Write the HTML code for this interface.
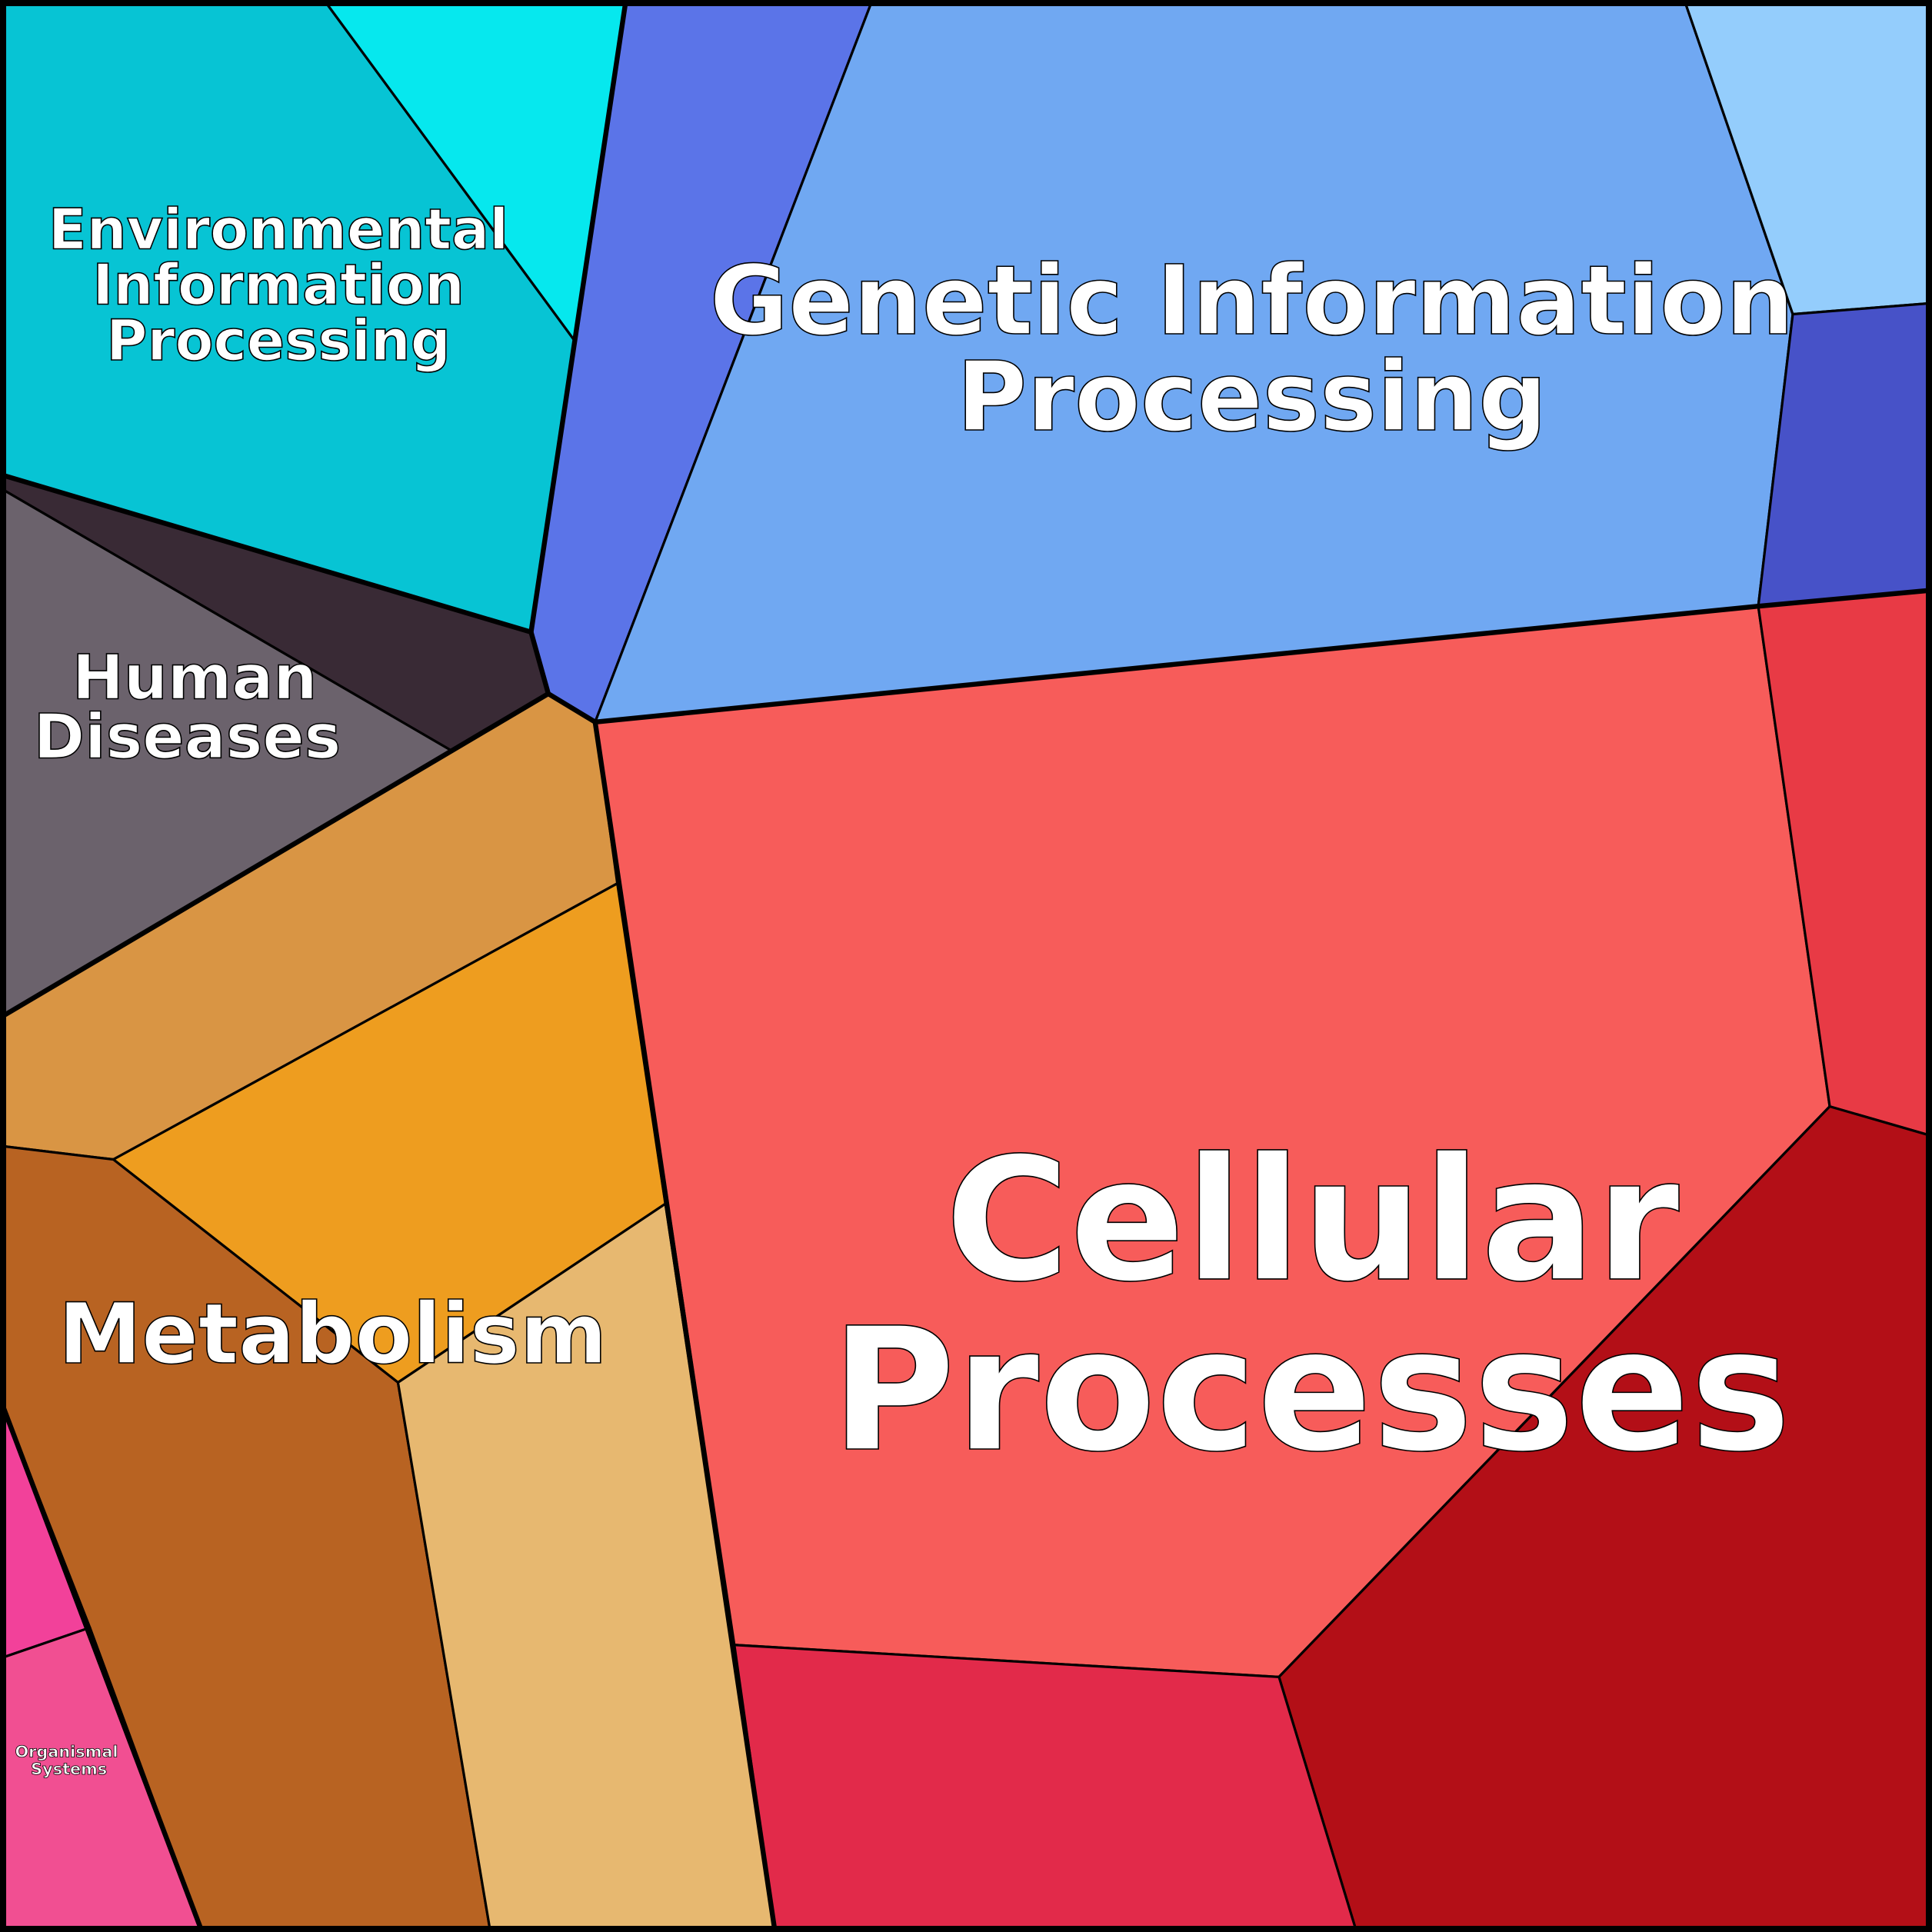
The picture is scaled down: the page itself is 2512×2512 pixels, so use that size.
<!DOCTYPE html>
<html><head><meta charset="utf-8"><style>html,body{margin:0;padding:0;background:#fff}svg{display:block}</style></head>
<body>
<svg width="2512" height="2512" viewBox="0 0 1568 1568" xmlns="http://www.w3.org/2000/svg">
<g stroke="#000" stroke-width="2" stroke-linejoin="round">
<polygon fill="#07c4d4" points="0,0 263,0 466,276 431,513 0,385"/>
<polygon fill="#06e8ee" points="263,0 508,0 466,276"/>
<polygon fill="#5b74e8" points="508,0 708,0 483,586 445,563 431,513 466,276"/>
<polygon fill="#70a8f2" points="708,0 1367,0 1455,255 1427,492 483,586"/>
<polygon fill="#94cdfc" points="1367,0 1568,0 1568,246 1455,255"/>
<polygon fill="#4752c8" points="1455,255 1568,246 1568,479 1427,492"/>
<polygon fill="#392a35" points="0,385 431,513 445,563 366,609 0,396"/>
<polygon fill="#6b626c" points="0,396 366,609 0,826"/>
<polygon fill="#d99544" points="0,826 445,563 483,586 501,717 92,941 0,930"/>
<polygon fill="#ee9d1f" points="92,941 501,717 540,977 323,1122"/>
<polygon fill="#b86322" points="0,930 92,941 323,1122 398,1568 164,1568 0,1135"/>
<polygon fill="#e7b870" points="323,1122 540,977 629,1568 398,1568"/>
<polygon fill="#f2419a" points="0,1135 73,1321 0,1346"/>
<polygon fill="#f14f92" points="0,1346 73,1321 164,1568 0,1568"/>
<polygon fill="#f75c5a" points="483,586 1427,492 1485,898 1038,1361 596,1335"/>
<polygon fill="#e83a45" points="1427,492 1568,479 1568,922 1485,898"/>
<polygon fill="#b30f17" points="1485,898 1568,922 1568,1568 1101,1568 1038,1361"/>
<polygon fill="#e22a4a" points="596,1335 1038,1361 1101,1568 629,1568"/>
</g>
<g fill="none" stroke="#000" stroke-width="4" stroke-linejoin="round">
<polyline points="0,385 431,513 508,0"/>
<polyline points="431,513 445,563 483,586 1427,492 1568,479"/>
<polyline points="445,563 0,826"/>
<polyline points="483,586 629,1568"/>
<polyline points="0,1135 164,1568"/>
<rect x="2" y="2" width="1564" height="1564" stroke-width="6"/>
</g>
<g font-family="'DejaVu Sans','Liberation Sans',sans-serif" font-weight="bold" fill="#fff" stroke="#000" stroke-width="1" text-anchor="middle">
<text font-size="45.5" x="226" y="202">Environmental</text>
<text font-size="45.5" x="226" y="247">Information</text>
<text font-size="45.5" x="226" y="292">Processing</text>
<text font-size="78" x="1016" y="271">Genetic Information</text>
<text font-size="78" x="1016" y="349">Processing</text>
<text font-size="50" x="158" y="567">Human</text>
<text font-size="50" x="152" y="615">Diseases</text>
<text font-size="68" x="270" y="1106">Metabolism</text>
<text font-size="138" x="1065" y="1038">Cellular</text>
<text font-size="138" x="1064" y="1176">Processes</text>
<text font-size="13" stroke-width="0.5" x="54" y="1426">Organismal</text>
<text font-size="13" stroke-width="0.5" x="56" y="1440">Systems</text>
</g>
</svg>
</body></html>
